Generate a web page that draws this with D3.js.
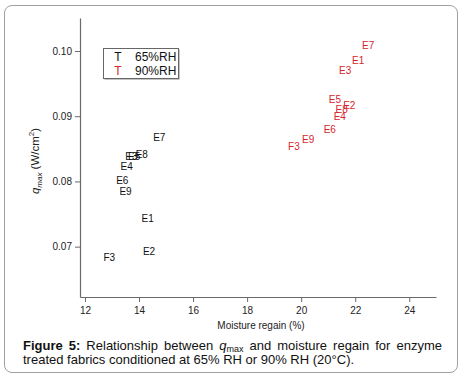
<!DOCTYPE html>
<html><head><meta charset="utf-8">
<script src="https://cdn.jsdelivr.net/npm/d3@7"></script>
<style>
html,body{margin:0;padding:0;background:#fff;}
#frame{position:absolute;left:4px;top:5px;width:454px;height:368px;border:1.3px solid #a0a0a0;border-radius:8px;box-sizing:border-box;}
svg{position:absolute;left:0;top:0;}
.cap{position:absolute;left:23px;font-family:"Liberation Sans",Arial,sans-serif;font-size:13px;line-height:14px;color:#111;white-space:nowrap;}
#cap1{top:339px;width:419px;text-align:justify;text-align-last:justify;}
#cap2{top:353px;}
</style></head>
<body>
<div id="frame"></div>
<svg id="chart" width="464" height="377"></svg>
<div class="cap" id="cap1"><b>Figure 5:</b> Relationship between <i>q</i><sub style="font-size:9px;line-height:0;vertical-align:-2px">max</sub> and moisture regain for enzyme</div>
<div class="cap" id="cap2">treated fabrics conditioned at 65% RH or 90% RH (20°C).</div>
<script>
const labels65 = ["E7","E8","E3","E5","E4","E6","E9","E1","E2","F3"];
const regain65 = [14.75,14.10,13.72,13.82,13.54,13.38,13.50,14.32,14.37,12.90];
const qmax65   = [0.0867,0.0841,0.0838,0.0838,0.0823,0.0802,0.0785,0.0743,0.0692,0.0683];

const labels90 = ["E7","E1","E3","E5","E2","E8","E4","E6","E9","F3"];
const regain90 = [22.48,22.11,21.63,21.25,21.78,21.50,21.43,21.06,20.26,19.73];
const qmax90   = [0.1008,0.0985,0.0970,0.0926,0.0916,0.0911,0.0899,0.0880,0.0865,0.0854];

const xTicks = [12,14,16,18,20,22,24];
const yTicks = [0.07,0.08,0.09,0.10];
const legendItems = ["65%RH","90%RH"];

const colors = ["#111111","#d4262b"];
const font = "Helvetica, 'Liberation Sans', Arial, sans-serif";

const svg = d3.select("#chart");
const pL = 80, pR = 436, pT = 18, pB = 297;
const x = d3.scaleLinear().domain([11.815, 24.99]).range([pL, pR]);
const y = d3.scaleLinear().domain([0.06228, 0.10506]).range([pB, pT]);

const axisColor = "#6a6a6a";
const gx = svg.append("g").attr("transform",`translate(0,${pB})`)
  .call(d3.axisBottom(x).tickValues(xTicks).tickSize(5).tickSizeOuter(0).tickPadding(5).tickFormat(d3.format("d")));
const gy = svg.append("g").attr("transform",`translate(${pL},0)`)
  .call(d3.axisLeft(y).tickValues(yTicks).tickSize(5).tickSizeOuter(0).tickPadding(3).tickFormat(d3.format(".2f")));
[gx,gy].forEach(g=>{
  g.selectAll("path").attr("stroke",axisColor).attr("stroke-width",1.2);
  g.selectAll("line").attr("stroke",axisColor).attr("stroke-width",1);
  g.selectAll("text").attr("font-family",font).attr("font-size",10).attr("fill","#222");
});

svg.append("text").attr("x",(pL+pR)/2+3).attr("y",329).attr("text-anchor","middle")
  .attr("font-family",font).attr("font-size",10).attr("fill","#222").text("Moisture regain (%)");

const yt = svg.append("text").attr("transform",`translate(39,161) rotate(-90)`).attr("text-anchor","middle")
  .attr("font-family",font).attr("font-size",11.5).attr("fill","#222");
yt.append("tspan").attr("font-style","italic").text("q");
yt.append("tspan").attr("font-style","italic").attr("font-size",8).attr("dy",2.5).text("max");
yt.append("tspan").attr("dy",-2.5).text(" (W/cm");
yt.append("tspan").attr("font-size",8).attr("dy",-5).text("2");
yt.append("tspan").attr("dy",5).text(")");

const series = [
  {labels:labels65, xs:regain65, ys:qmax65, color:colors[0]},
  {labels:labels90, xs:regain90, ys:qmax90, color:colors[1]}
];
series.forEach(s=>{
  svg.append("g").selectAll("text").data(s.labels).join("text")
    .attr("x",(d,i)=>x(s.xs[i])).attr("y",(d,i)=>y(s.ys[i]))
    .attr("dy","0.36em").attr("text-anchor","middle")
    .attr("font-family",font).attr("font-size",10).attr("fill",s.color).text(d=>d);
});

// legend
const lg = svg.append("g");
lg.append("rect").attr("x",104.5).attr("y",49.5).attr("width",75).attr("height",30).attr("fill","#888");
lg.append("rect").attr("x",103.5).attr("y",48.5).attr("width",75).attr("height",30).attr("fill","#fff").attr("stroke","#666").attr("stroke-width",1);
legendItems.forEach((t,i)=>{
  lg.append("text").attr("x",118).attr("y",57+i*14).attr("dy","0.36em").attr("text-anchor","middle")
    .attr("font-family",font).attr("font-size",12).attr("fill",colors[i]).text("T");
  lg.append("text").attr("x",135).attr("y",57+i*14).attr("dy","0.36em")
    .attr("font-family",font).attr("font-size",12).attr("fill","#111").text(t);
});
</script>
</body></html>
